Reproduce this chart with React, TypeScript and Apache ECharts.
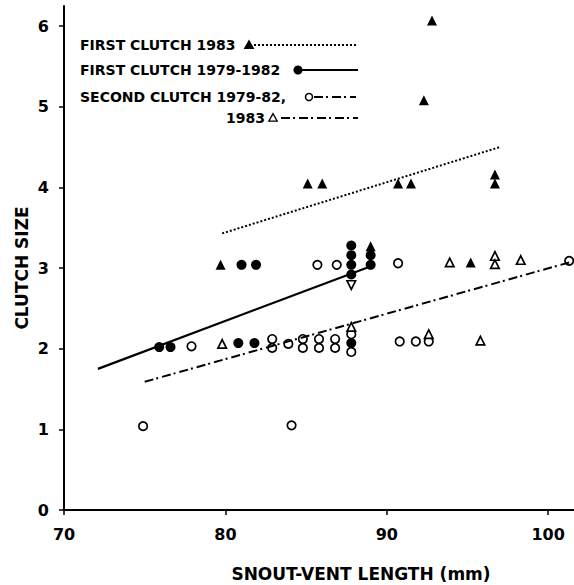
import React, { useEffect, useRef } from "react";
import * as echarts from "echarts";

const xTickValues = [70, 80, 90, 100];
const yTickValues = [0, 1, 2, 3, 4, 5, 6];

// First clutch 1983 (filled triangles)
const firstClutch1983: number[][] = [
  [92.8, 6.07], [92.3, 5.08], [90.7, 4.05], [91.5, 4.05], [96.7, 4.16], [96.7, 4.05],
  [85.1, 4.05], [86.0, 4.05], [89.0, 3.27], [95.2, 3.07], [79.7, 3.04],
];
// First clutch 1979-1982 (filled circles)
const firstClutch7982: number[][] = [
  [75.9, 2.02], [76.6, 2.02], [80.8, 2.07], [81.8, 2.07], [81.0, 3.04], [81.9, 3.04],
  [87.8, 3.28], [87.8, 3.16], [87.8, 3.04], [87.8, 2.92], [89.0, 3.16], [89.0, 3.04],
  [87.8, 2.07],
];
// Second clutch 1979-82 (open circles)
const secondClutch7982: number[][] = [
  [74.9, 1.04], [84.1, 1.05], [77.9, 2.03], [82.9, 2.12], [82.9, 2.01], [83.9, 2.06],
  [84.8, 2.12], [84.8, 2.01], [85.8, 2.12], [85.8, 2.01], [86.8, 2.12], [86.8, 2.01],
  [87.8, 2.18], [87.8, 1.96], [85.7, 3.04], [86.9, 3.04], [90.7, 3.06], [90.8, 2.09],
  [91.8, 2.09], [92.6, 2.09], [101.3, 3.09],
];
// Second clutch 1983 (open triangles)
const secondClutch1983: number[][] = [
  [79.8, 2.06], [87.8, 2.27], [93.9, 3.07], [96.7, 3.15], [96.7, 3.05], [98.3, 3.1],
  [92.6, 2.18], [95.8, 2.1],
];
// Second clutch 1983, drawn inverted
const secondClutch1983Inverted: number[][] = [[87.8, 2.79]];

// Fitted lines (end points)
const fitFirst1983: number[][] = [[79.8, 3.43], [97.0, 4.5]];
const fitFirst7982: number[][] = [[72.1, 1.75], [89.1, 3.03]];
const fitSecond: number[][] = [[75.0, 1.59], [101.3, 3.07]];

const legendLabels = [
  "FIRST CLUTCH 1983",
  "FIRST CLUTCH 1979-1982",
  "SECOND CLUTCH 1979-82,",
  "1983",
];
const xTitle = "SNOUT-VENT LENGTH (mm)";
const yTitle = "CLUTCH SIZE";

const FONT = '"DejaVu Sans", "Liberation Sans", sans-serif';
const DASHDOT = [9, 3, 2, 4];

function tri(cx: number, cy: number, s: number) {
  return [
    [cx, cy - s * 0.62],
    [cx + s * 0.6, cy + s * 0.45],
    [cx - s * 0.6, cy + s * 0.45],
  ];
}

export default function App() {
  const ref = useRef<HTMLDivElement>(null);
  useEffect(() => {
    if (!ref.current) return;
    const chart = echarts.init(ref.current, undefined, { renderer: "svg" });
    const legendText = (t: string, x: number, y: number) => ({
      type: "text",
      style: {
        text: t, x, y, fill: "#000",
        font: `bold 14px ${FONT}`,
        align: "left", verticalAlign: "middle",
        textAlign: "left", textVerticalAlign: "middle",
      },
    });
    const option: any = {
      animation: false,
      backgroundColor: "#fff",
      grid: { left: 64, top: 6, width: 510, height: 504, containLabel: false },
      xAxis: {
        type: "value", min: 70, max: 101.6, interval: 10,
        splitLine: { show: false },
        axisLine: { show: true, onZero: false, lineStyle: { color: "#000", width: 2 } },
        axisTick: { show: true, length: 5, lineStyle: { color: "#000", width: 1.5 }, customValues: xTickValues },
        axisLabel: {
          color: "#000", fontFamily: FONT, fontWeight: "bold", fontSize: 16, margin: 16,
          customValues: xTickValues,
          formatter: (v: number) => (xTickValues.includes(v) ? String(v) : ""),
        },
      },
      yAxis: {
        type: "value", min: 0, max: 6.25, interval: 1,
        splitLine: { show: false },
        axisLine: { show: true, onZero: false, lineStyle: { color: "#000", width: 2 } },
        axisTick: { show: true, length: 5, lineStyle: { color: "#000", width: 1.5 }, customValues: yTickValues },
        axisLabel: {
          color: "#000", fontFamily: FONT, fontWeight: "bold", fontSize: 16, margin: 15,
          customValues: yTickValues,
          formatter: (v: number) => (yTickValues.includes(v) ? String(v) : ""),
        },
      },
      series: [
        {
          type: "line", data: fitFirst1983, symbol: "none", silent: true,
          lineStyle: { color: "#000", width: 2, type: [2, 2], opacity: 1 },
        },
        {
          type: "line", data: fitFirst7982, symbol: "none", silent: true,
          lineStyle: { color: "#000", width: 2.2, type: "solid", opacity: 1 },
        },
        {
          type: "line", data: fitSecond, symbol: "none", silent: true,
          lineStyle: { color: "#000", width: 2, type: DASHDOT, opacity: 1 },
        },
        {
          type: "scatter", data: secondClutch7982, symbol: "circle", symbolSize: 8.5,
          itemStyle: { color: "#fff", borderColor: "#000", borderWidth: 1.7, opacity: 1 },
        },
        {
          type: "scatter", data: secondClutch1983, symbol: "triangle", symbolSize: 8.5,
          itemStyle: { color: "#fff", borderColor: "#000", borderWidth: 1.7, opacity: 1 },
        },
        {
          type: "scatter", data: secondClutch1983Inverted, symbol: "triangle", symbolSize: 8.5, symbolRotate: 180,
          itemStyle: { color: "#fff", borderColor: "#000", borderWidth: 1.7, opacity: 1 },
        },
        {
          type: "scatter", data: firstClutch7982, symbol: "circle", symbolSize: 10,
          itemStyle: { color: "#000", opacity: 1 },
        },
        {
          type: "scatter", data: firstClutch1983, symbol: "triangle", symbolSize: 10,
          itemStyle: { color: "#000", opacity: 1 },
        },
      ],
      graphic: [
        legendText(legendLabels[0], 80, 45),
        { type: "polygon", shape: { points: tri(249, 45, 9) }, style: { fill: "#000" } },
        { type: "line", shape: { x1: 254, y1: 45, x2: 358, y2: 45 }, style: { stroke: "#000", lineWidth: 1.8, lineDash: [2, 2] } },

        legendText(legendLabels[1], 80, 70),
        { type: "circle", shape: { cx: 298, cy: 70, r: 4.5 }, style: { fill: "#000" } },
        { type: "line", shape: { x1: 301, y1: 70, x2: 358, y2: 70 }, style: { stroke: "#000", lineWidth: 2 } },

        legendText(legendLabels[2], 80, 97),
        { type: "circle", shape: { cx: 309, cy: 97, r: 3.5 }, style: { fill: "#fff", stroke: "#000", lineWidth: 1.5 } },
        { type: "line", shape: { x1: 314, y1: 97, x2: 356, y2: 97 }, style: { stroke: "#000", lineWidth: 2, lineDash: DASHDOT } },

        legendText(legendLabels[3], 226, 118),
        { type: "polygon", shape: { points: tri(273, 118, 7) }, style: { fill: "#fff", stroke: "#000", lineWidth: 1.3 } },
        { type: "line", shape: { x1: 281, y1: 118, x2: 358, y2: 118 }, style: { stroke: "#000", lineWidth: 2, lineDash: DASHDOT } },

        {
          type: "text",
          style: {
            text: xTitle, x: 361, y: 574, fill: "#000", font: `bold 17px ${FONT}`,
            align: "center", verticalAlign: "middle", textAlign: "center", textVerticalAlign: "middle",
          },
        },
        {
          type: "text", x: 22, y: 268, rotation: Math.PI / 2,
          style: {
            text: yTitle, x: 0, y: 0, fill: "#000", font: `bold 17px ${FONT}`,
            align: "center", verticalAlign: "middle", textAlign: "center", textVerticalAlign: "middle",
          },
        },
      ],
    };
    chart.setOption(option);
    return () => chart.dispose();
  }, []);
  return <div ref={ref} style={{ width: 574, height: 585, position: "absolute", left: 0, top: 0 }} />;
}
